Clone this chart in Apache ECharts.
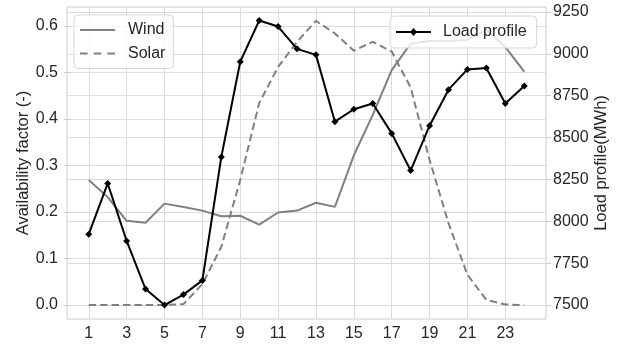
<!DOCTYPE html>
<html><head><meta charset="utf-8">
<script src="https://cdn.jsdelivr.net/npm/echarts@6/dist/echarts.min.js"></script>
<style>html,body{margin:0;padding:0;background:#fff}#c{width:626px;height:348px}</style>
</head><body><div id="c"></div>
<script>
const hours = [1,2,3,4,5,6,7,8,9,10,11,12,13,14,15,16,17,18,19,20,21,22,23,24];
const wind = [0.269,0.232,0.181,0.177,0.218,0.211,0.203,0.191,0.192,0.173,0.199,0.203,0.220,0.211,0.322,0.409,0.505,0.562,0.568,0.568,0.570,0.592,0.555,0.502];
const solar = [0,0,0,0,0,0.002,0.045,0.125,0.269,0.434,0.512,0.566,0.611,0.584,0.547,0.566,0.545,0.468,0.312,0.176,0.065,0.011,0.001,0];
const load = [7923,8226,7883,7595,7500,7562,7647,8384,8953,9199,9163,9030,8994,8595,8669,8704,8525,8303,8571,8786,8907,8915,8704,8808];
const xTicks = [1,3,5,7,9,11,13,15,17,19,21,23];
const leftTicks = [0,0.1,0.2,0.3,0.4,0.5,0.6];
const rightTicks = [7500,7750,8000,8250,8500,8750,9000,9250];

const pairs = arr => hours.map((h,i)=>[h,arr[i]]);
const txt = '#262626', gridC = '#dcdcdc', font = 'Liberation Sans, Arial, sans-serif';
const iconSolid = 'path://M0,0h35v2.2h-35z';
const iconDash = 'path://M0,0h7.6v2.2h-7.6zM13.7,0h7.6v2.2h-7.6zM27.4,0h7.6v2.2h-7.6z';
const iconLoad = 'path://M0,2.9h35v2.2h-35zM17.5,0L21,4L17.5,8L14,4z';
const chart = echarts.init(document.getElementById('c'), null, {renderer:'canvas'});
chart.setOption({
  animation:false,
  backgroundColor:'#fff',
  textStyle:{fontFamily:font},
  grid:{left:67,right:80,top:7,bottom:29,show:true,borderColor:'#cccccc',borderWidth:1,containLabel:false},
  xAxis:{type:'value',min:-0.15,max:25.15,
    axisLine:{show:false},axisTick:{show:false,customValues:xTicks},
    axisLabel:{customValues:xTicks,color:txt,fontSize:16,margin:7,fontFamily:font},
    splitLine:{show:true,lineStyle:{color:gridC,width:1}}},
  yAxis:[
    {type:'value',position:'left',min:-0.0301,max:0.6409,
     name:'Availability factor (-)',nameLocation:'middle',nameRotate:90,nameGap:35,nameMoveOverlap:false,
     nameTextStyle:{color:txt,fontSize:16.5,fontFamily:font},
     axisLine:{show:false},
     axisTick:{show:true,customValues:leftTicks,length:6,lineStyle:{color:'#cccccc'}},
     axisLabel:{customValues:leftTicks,color:txt,fontSize:16,margin:9,fontFamily:font,formatter:v=>v.toFixed(1)},
     splitLine:{show:true,lineStyle:{color:gridC,width:1}}},
    {type:'value',position:'right',min:7416.4,max:9279.9,
     name:'Load profile(MWh)',nameLocation:'middle',nameRotate:90,nameGap:47,nameMoveOverlap:false,
     nameTextStyle:{color:txt,fontSize:16.5,fontFamily:font},
     axisLine:{show:false},
     axisTick:{show:true,customValues:rightTicks,length:5,lineStyle:{color:'#cccccc'}},
     axisLabel:{customValues:rightTicks,color:txt,fontSize:16,margin:7,fontFamily:font,formatter:v=>String(v)},
     splitLine:{show:true,lineStyle:{color:gridC,width:1}}}
  ],
  legend:[
    {data:[{name:'Wind',icon:iconSolid},{name:'Solar',icon:iconDash}],left:74,top:15,orient:'vertical',
     itemWidth:35,itemHeight:16,itemGap:7.5,
     padding:[7,8,7,6],backgroundColor:'rgba(255,255,255,0.8)',borderColor:'#d6d6d6',borderWidth:1,borderRadius:4,
     textStyle:{color:txt,fontSize:16,fontFamily:font,padding:[0,0,0,8]}},
    {data:[{name:'Load profile',icon:iconLoad}],left:390,top:16,itemWidth:35,itemHeight:16,
     padding:[8,10,8,6],backgroundColor:'rgba(255,255,255,0.8)',borderColor:'#d6d6d6',borderWidth:1,borderRadius:4,
     textStyle:{color:txt,fontSize:16,fontFamily:font,padding:[0,0,0,7]}}
  ],
  series:[
    {name:'Wind',type:'line',yAxisIndex:0,data:pairs(wind),symbol:'none',
     lineStyle:{color:'#808080',width:2},itemStyle:{color:'#808080'},z:2},
    {name:'Solar',type:'line',yAxisIndex:0,data:pairs(solar),symbol:'none',
     lineStyle:{color:'#808080',width:2,type:[7.4,4]},itemStyle:{color:'#808080'},z:2},
    {name:'Load profile',type:'line',yAxisIndex:1,data:pairs(load),symbol:'diamond',symbolSize:7,
     lineStyle:{color:'#000',width:2},itemStyle:{color:'#000'},z:3}
  ]
});
</script></body></html>
